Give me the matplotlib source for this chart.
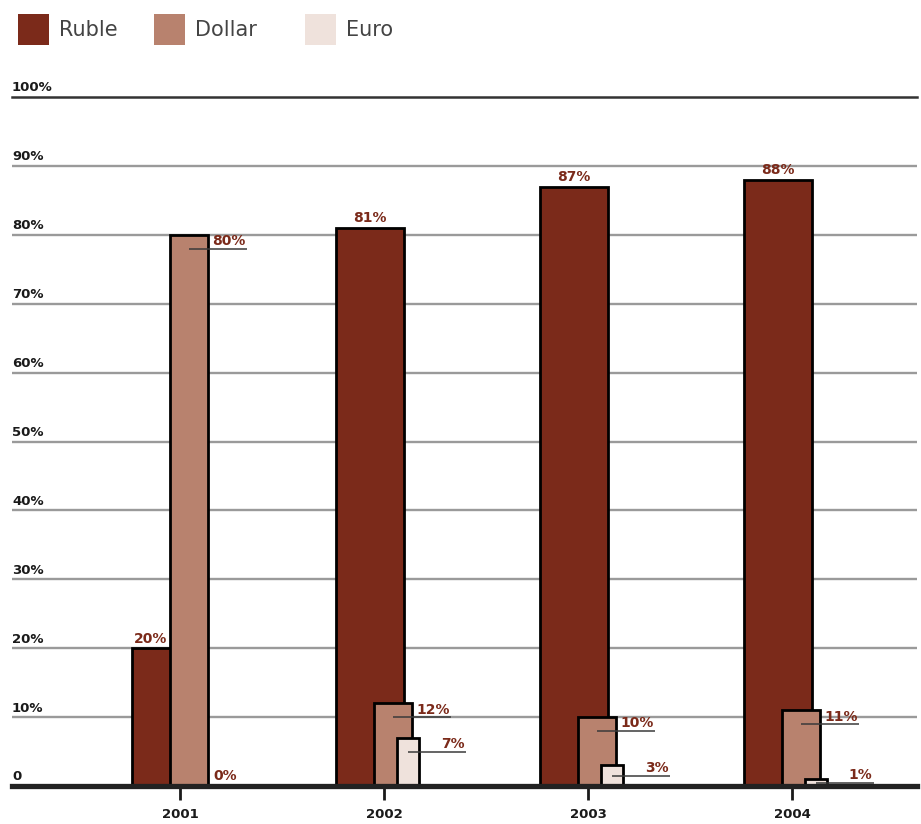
import matplotlib.pyplot as plt
import matplotlib.transforms as mtransforms
from matplotlib.patches import Rectangle

years = ['2001', '2002', '2003', '2004']
ruble = [20, 81, 87, 88]
dollar = [80, 12, 10, 11]
euro = [0, 7, 3, 1]
series_names = ['Ruble', 'Dollar', 'Euro']
grid_levels = [10, 20, 30, 40, 50, 60, 70, 80, 90]
ytick_labels = ['0', '10%', '20%', '30%', '40%', '50%', '60%', '70%', '80%', '90%', '100%']

c_ruble = '#7b2a1a'
c_dollar = '#b8826e'
c_euro = '#efe2dc'
c_label = '#7b2a1a'

W, H = 921, 824
fig = plt.figure(figsize=(W / 100, H / 100), dpi=100)
ax = fig.add_axes([12 / W, 38 / H, (917 - 12) / W, (786 - 97) / H])

x = list(range(len(years)))
w_r, w_d, w_e = 0.333, 0.186, 0.108
off_r, off_d, off_e = -0.069, 0.044, 0.118

# grid
for g in grid_levels:
    ax.axhline(g, color='#9a9a9a', lw=1.7, zorder=1)
ax.axhline(100, color='#333333', lw=1.8, zorder=1, clip_on=False)
ax.axhline(0, color='#222222', lw=3.8, zorder=10, clip_on=False)

xr = [i + off_r for i in x]
xd = [i + off_d for i in x]
xe = [i + off_e for i in x]
ax.bar(xr, ruble, width=w_r, color=c_ruble, edgecolor='black', lw=2, zorder=3)
ax.bar(xd, dollar, width=w_d, color=c_dollar, edgecolor='black', lw=2, zorder=4)
ax.bar(xe, euro, width=w_e, color=c_euro, edgecolor='black', lw=2, zorder=5)

lab = dict(color=c_label, fontsize=10, fontweight='bold')

# ruble values above bars
for i, v in enumerate(ruble):
    cx = xr[i]
    if dollar[i] > v:
        # centre over the part not covered by the dollar bar
        cx = ((xr[i] - w_r / 2) + (xd[i] - w_d / 2)) / 2
    ax.annotate(f'{v}%', xy=(cx, v), xytext=(0, 4), textcoords='offset points',
                ha='center', va='baseline', zorder=8, **lab)

# dollar / euro values with leader lines
lead = 0.284
for xs, vals, ws in [(xd, dollar, w_d), (xe, euro, w_e)]:
    for i, v in enumerate(vals):
        if v == 0:
            ax.annotate(f'{v}%', xy=(xd[i] + w_d / 2 + 0.025, v), xytext=(0, 4),
                        textcoords='offset points', ha='left', va='baseline',
                        zorder=8, **lab)
            continue
        ly = v - 2 if v > 4 else v * 0.5
        ax.plot([xs[i], xs[i] + lead], [ly, ly], color='#3a3a3a', lw=1.1, zorder=7,
                solid_capstyle='butt')
        ax.annotate(f'{v}%', xy=(xs[i] + lead, ly), xytext=(-1, 2.5),
                    textcoords='offset points', ha='right', va='baseline',
                    zorder=8, **lab)

# y labels sitting on the grid lines
trans = mtransforms.blended_transform_factory(ax.transAxes, ax.transData)
for k, t in enumerate(ytick_labels):
    ax.annotate(t, xy=(0, k * 10), xycoords=trans, xytext=(0, 4),
                textcoords='offset points', ha='left', va='baseline',
                fontsize=9.5, fontweight='bold', color='#1a1a1a')

ax.set_xlim(-0.824, 3.613)
ax.set_ylim(0, 100)
ax.set_xticks(x)
ax.set_xticklabels(years, fontsize=9.5, fontweight='bold', color='#1a1a1a')
ax.tick_params(axis='x', length=10, width=2, color='#1a1a1a', pad=6)
ax.set_yticks([])
for s in ax.spines.values():
    s.set_visible(False)

# legend
colors = [c_ruble, c_dollar, c_euro]
box_x = [18, 154, 305]
for name, c, bx in zip(series_names, colors, box_x):
    fig.add_artist(Rectangle((bx / W, 1 - 45 / H), 31 / W, 31 / H,
                             transform=fig.transFigure, color=c, lw=0))
    fig.text((bx + 41) / W, 1 - 30 / H, name, fontsize=15, color='#444444',
             va='center', ha='left')

fig.savefig('out.png', dpi=100)
